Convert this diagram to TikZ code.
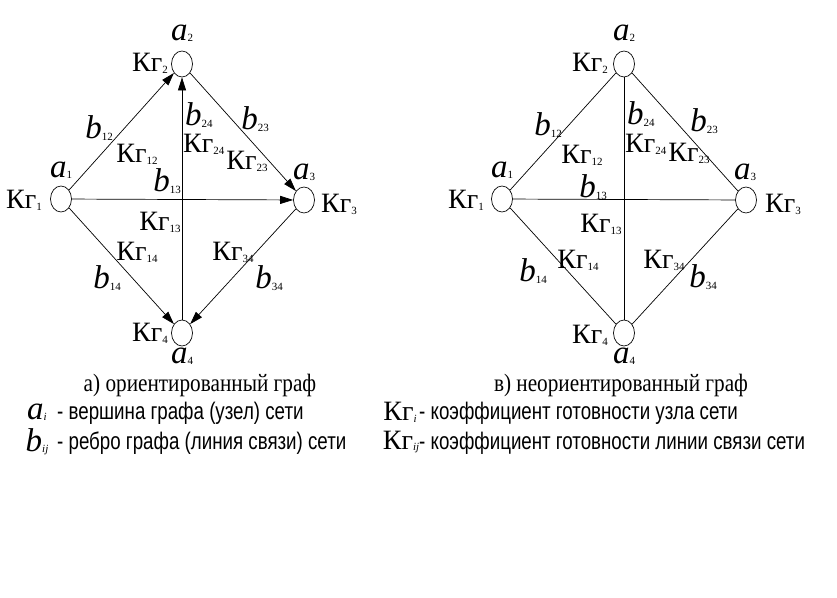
\documentclass[tikz,border=0pt]{standalone}
\usepackage{fontspec}
\setmainfont{Liberation Serif}
\newfontfamily\legfont{Liberation Sans}
\usetikzlibrary{shapes.geometric,arrows.meta}

% labels: coefficient, vertex, edge
\newcommand{\kg}[1]{{\fontsize{28}{28}\selectfont Кг}\raisebox{-0.4ex}{\fontsize{11}{11}\selectfont #1}}
\newcommand{\va}[1]{{\fontsize{33}{33}\selectfont\itshape a}\raisebox{-0.3ex}{\fontsize{11}{11}\selectfont #1}}
\newcommand{\eb}[1]{{\fontsize{33}{33}\selectfont\itshape b}\raisebox{-0.3ex}{\fontsize{11}{11}\selectfont #1}}
\newcommand{\captxt}[1]{\scalebox{0.85}[1]{\fontsize{25}{25}\selectfont #1}}
\newcommand{\legtxt}[1]{\scalebox{0.78}[1]{\legfont\fontsize{24}{24}\selectfont #1}}

\tikzset{
    vert/.style={draw, ellipse, minimum width=21pt, minimum height=26pt, inner sep=0pt, line width=0.7pt},
    lab/.style={inner sep=0pt},
    arr/.style={-{Triangle[length=13pt,width=8pt]}, line width=0.7pt},
    edge/.style={line width=0.7pt}
}

\begin{document}
\begin{tikzpicture}[x=1pt, y=-1pt]
    \useasboundingbox[fill=white] (0,0) rectangle (837,597);

    % a) oriented graph
    \foreach \n/\x/\y in {1/61/199, 2/182/64, 3/304/200, 4/182/333} {
        \node[vert] (L\n) at (\x,\y) {};
    }
    \foreach \s/\t in {1/2, 2/3, 1/3, 1/4, 3/4, 4/2} {
        \draw[arr] (L\s) -- (L\t);
    }
    \foreach \nm/\x/\y/\txt in {la1/61/170/\va{1}, la2/182/33/\va{2}, la3/304/172/\va{3}, la4/182/356/\va{4},
        lk1/24/200/\kg{1}, lk2/150/63/\kg{2}, lk3/339/204/\kg{3}, lk4/150/333/\kg{4},
        lb12/99/128/\eb{12}, lk12/137/154/\kg{12}, lb23/255/119/\eb{23}, lk23/247/161/\kg{23},
        lb13/167/181/\eb{13}, lk13/160/222/\kg{13},
        lk14/137/252/\kg{14}, lb14/107/278/\eb{14}, lk34/233/252/\kg{34}, lb34/269/278/\eb{34}} {
        \node[lab] (\nm) at (\x,\y) {\txt};
    }
    \node[lab, anchor=west] (lb24) at (185,115) {\eb{24}};
    \node[lab, anchor=west] (lk24) at (183,144) {\kg{24}};

    % b) non-oriented graph
    \foreach \n/\x/\y in {1/502/199, 2/624/64, 3/746/200, 4/624/333} {
        \node[vert] (R\n) at (\x,\y) {};
    }
    \foreach \s/\t in {1/2, 2/3, 1/3, 1/4, 3/4, 2/4} {
        \draw[edge] (R\s) -- (R\t);
    }
    \foreach \nm/\x/\y/\txt in {ra1/502/170/\va{1}, ra2/624/33/\va{2}, ra3/745/172/\va{3}, ra4/624/356/\va{4},
        rk1/466/200/\kg{1}, rk2/590/63/\kg{2}, rk3/783/204/\kg{3}, rk4/590/335/\kg{4},
        rb12/548/125/\eb{12}, rk12/582/155/\kg{12}, rb23/704/121/\eb{23}, rk23/689/153/\kg{23},
        rb13/593/187/\eb{13}, rk13/601/224/\kg{13},
        rk14/578/260/\kg{14}, rb14/533/271/\eb{14}, rk34/664/260/\kg{34}, rb34/703/277/\eb{34}} {
        \node[lab] (\nm) at (\x,\y) {\txt};
    }
    \node[lab, anchor=west] (rb24) at (627,114) {\eb{24}};
    \node[lab, anchor=west] (rk24) at (625,144) {\kg{24}};

    % captions
    \node[lab] (capa) at (200,385) {\captxt{а) ориентированный граф}};
    \node[lab] (capb) at (621,385) {\captxt{в) неориентированный граф}};

    % legend
    \node[lab] (syma) at (37,412) {\va{\textit{i}}};
    \node[lab] (symb) at (37,442) {\eb{\textit{ij}}};
    \node[lab, anchor=west] (lega) at (57,413) {\legtxt{- вершина графа (узел) сети}};
    \node[lab, anchor=west] (legb) at (57,443) {\legtxt{- ребро графа (линия связи) сети}};
    \node[lab] (symk) at (400,412) {\kg{\textit{i}}};
    \node[lab] (syml) at (401,442) {\kg{\textit{ij}}};
    \node[lab, anchor=west] (legk) at (419,413) {\legtxt{- коэффициент готовности узла сети}};
    \node[lab, anchor=west] (legl) at (419,443) {\legtxt{- коэффициент готовности линии связи сети}};
\end{tikzpicture}
\end{document}
